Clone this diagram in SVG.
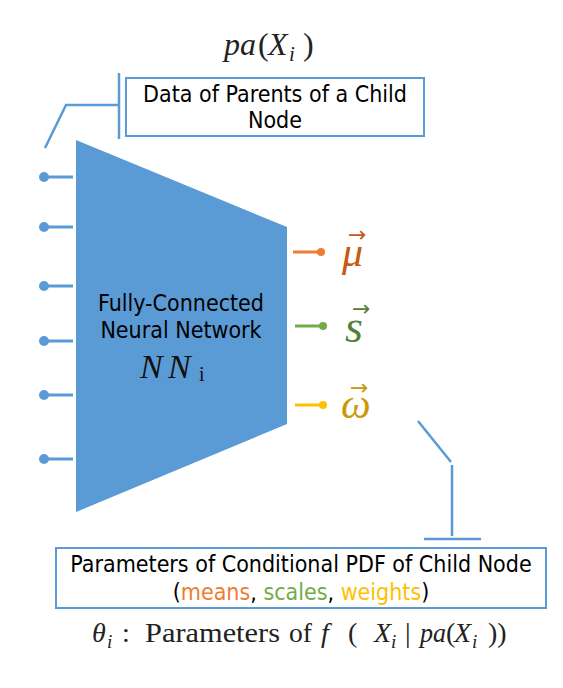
<svg xmlns="http://www.w3.org/2000/svg" width="563" height="688" viewBox="0 0 563 688">
<style>
.box{fill:#fff;stroke:#5B9BD5;stroke-width:2}
.ln{stroke:#5B9BD5;stroke-width:2.5;fill:none}
.sans{font-family:"DejaVu Sans Condensed","DejaVu Sans",sans-serif;fill:#000;font-size:23px}
.math{font-family:"Liberation Serif","DejaVu Serif",serif;fill:#222}
.it{font-style:italic}
.arr{font-family:"DejaVu Sans",sans-serif;font-size:22px}
</style>
<rect width="563" height="688" fill="#fff"/>
<g id="connectors">
<polyline class="ln" points="45,148 66,105 118,105"/>
<line class="ln" x1="119" y1="73" x2="119" y2="139"/>
<line class="ln" x1="418" y1="421" x2="451" y2="462"/>
<line class="ln" x1="452" y1="465" x2="452" y2="536"/>
<line class="ln" x1="424" y1="539" x2="481" y2="539"/>
<g fill="#5B9BD5" stroke="#5B9BD5" stroke-width="3">
<line x1="44" y1="177" x2="73" y2="177"/><circle cx="44" cy="177" r="3.5"/>
<line x1="44" y1="227" x2="73" y2="227"/><circle cx="44" cy="227" r="3.5"/>
<line x1="44" y1="286" x2="73" y2="286"/><circle cx="44" cy="286" r="3.5"/>
<line x1="44" y1="341" x2="73" y2="341"/><circle cx="44" cy="341" r="3.5"/>
<line x1="44" y1="395" x2="73" y2="395"/><circle cx="44" cy="395" r="3.5"/>
<line x1="44" y1="459" x2="73" y2="459"/><circle cx="44" cy="459" r="3.5"/>
</g>
<g stroke-width="3">
<line x1="293" y1="252" x2="321" y2="252" stroke="#ED7D31"/><circle cx="321" cy="252" r="4" fill="#ED7D31"/>
<line x1="295" y1="326" x2="323" y2="326" stroke="#70AD47"/><circle cx="323" cy="326" r="4" fill="#70AD47"/>
<line x1="295" y1="405" x2="323" y2="405" stroke="#FFC000"/><circle cx="323" cy="405" r="4" fill="#FFC000"/>
</g>
</g>
<g id="title-pa" font-size="32">
<text x="224" y="55" class="math it">pa</text>
<text x="258" y="55" class="math">(</text>
<text x="268" y="55" class="math it">X</text>
<text x="289" y="61" class="math it" font-size="21">i</text>
<text x="303" y="55" class="math">)</text>
</g>
<g id="parents-box">
<rect class="box" x="126" y="78" width="298" height="58"/>
<text class="sans" x="275" y="102" text-anchor="middle">Data of Parents of a Child</text>
<text class="sans" x="275" y="128" text-anchor="middle">Node</text>
</g>
<g id="network">
<polygon points="76,140 287,227 287,424 76,512" fill="#5B9BD5"/>
<text class="sans" x="181" y="311" text-anchor="middle">Fully-Connected</text>
<text class="sans" x="181" y="338" text-anchor="middle">Neural Network</text>
<text class="math it" x="140" y="378" font-size="34" style="fill:#111">N</text>
<text class="math it" x="168" y="378" font-size="34" style="fill:#111">N</text>
<text class="math" x="199" y="381" font-size="20" style="fill:#111">i</text>
</g>
<g id="output-mu">
<text class="math it" x="342" y="266" font-size="42" style="fill:#C55A11">μ</text>
<text class="arr" x="348" y="242" style="fill:#C55A11">→</text>
</g>
<g id="output-s">
<text class="math it" x="345" y="342" font-size="46" style="fill:#548235">s</text>
<text class="arr" x="352" y="316" style="fill:#548235">→</text>
</g>
<g id="output-w">
<text class="math it" x="341" y="418" font-size="42" style="fill:#C99A06">ω</text>
<text class="arr" x="350" y="395" style="fill:#C99A06">→</text>
</g>
<g id="params-box">
<rect class="box" x="56" y="548" width="490" height="60"/>
<text class="sans" x="301" y="572" text-anchor="middle">Parameters of Conditional PDF of Child Node</text>
<text class="sans" x="301" y="600" text-anchor="middle">(<tspan fill="#ED7D31">means</tspan>, <tspan fill="#70AD47">scales</tspan>, <tspan fill="#FFC000">weights</tspan>)</text>
</g>
<g id="theta-label" font-size="28">
<text class="math it" x="92" y="642">θ</text>
<text class="math it" x="107" y="648" font-size="19">i</text>
<text class="math" x="122" y="642">:</text>
<text class="math" x="145" y="642" textLength="135" lengthAdjust="spacingAndGlyphs">Parameters</text>
<text class="math" x="289" y="642" textLength="23" lengthAdjust="spacingAndGlyphs">of</text>
<text class="math it" x="321" y="642">f</text>
<text class="math" x="348" y="642">(</text>
<text class="math it" x="374" y="642">X</text>
<text class="math it" x="391" y="648" font-size="19">i</text>
<text class="math" x="405" y="642">|</text>
<text class="math it" x="420" y="642" textLength="26" lengthAdjust="spacingAndGlyphs">pa</text>
<text class="math" x="446" y="642">(</text>
<text class="math it" x="454" y="642">X</text>
<text class="math it" x="472" y="648" font-size="19">i</text>
<text class="math" x="488" y="642">))</text>
</g>
</svg>
